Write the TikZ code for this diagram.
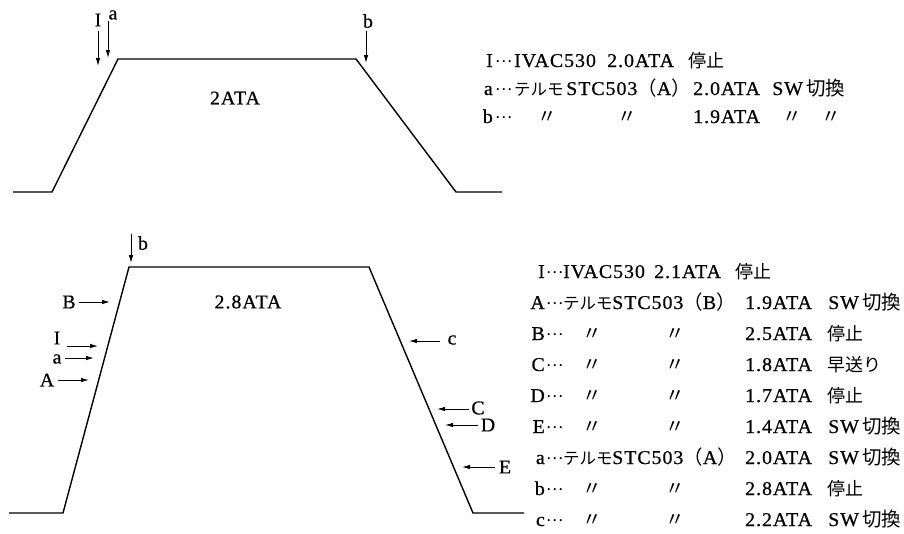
\documentclass[tikz,border=0pt]{standalone}
\usepackage{fontspec}
\setmainfont{Liberation Serif}[FakeStretch=1.02,LetterSpace=5,FakeBold=0.6]
\newfontfamily\jp{Noto Sans CJK JP}
\usetikzlibrary{arrows.meta}
\newcommand{\dts}{\raisebox{4.5pt}{\jp\fontsize{16}{18}\selectfont …}}
\newcommand{\dit}{{\jp 〃}}
\begin{document}
\begin{tikzpicture}[x=1pt,y=-1pt,
  every node/.style={font=\fontsize{19.5}{22}\selectfont, inner sep=0pt},
  graph/.style={line width=1.4pt, line join=miter},
  arr/.style={-{Latex[length=8pt,width=4.5pt]}, line width=0.9pt},
  tx/.style={anchor=base west},
  lt/.style={anchor=base east},
  dc/.style={anchor=base},
  kt/.style={anchor=base west, font=\fontsize{16.5}{20}\selectfont\jp},
  kj/.style={anchor=base west, font=\fontsize{18}{20}\selectfont\jp}]
\useasboundingbox (0,0) rectangle (904,533);
% ---------------- top graph ----------------
\draw[graph] (13,192) -- (52,192) -- (118,59) -- (356,59) -- (456,192) -- (502,192);
\node (t2ata) at (235,98) {2ATA};
\node (tI) at (98,20) {I};
\node (ta) at (113,15) {a};
\node (tb) at (368,21) {b};
\coordinate (tIs) at (98,31);  \coordinate (tIe) at (98,66);
\coordinate (tas) at (108,21); \coordinate (tae) at (108,58);
\coordinate (tbs) at (366,31); \coordinate (tbe) at (366,63);
\draw[arr] (tIs) -- (tIe);
\draw[arr] (tas) -- (tae);
\draw[arr] (tbs) -- (tbe);
% top legend
\node[lt] (r1l) at (493,67) {I};
\node[tx] (r1d) at (495,67) {\dts};
\node[tx] (r1a) at (514,67) {IVAC530};
\node[tx] (r1b) at (607,67) {2.0ATA};
\node[kj] (r1c) at (688,67) {停止};
\node[lt] (r2l) at (493,95) {a};
\node[tx] (r2d) at (495,95) {\dts};
\node[kt] (r2a) at (514,95) {テルモ};
\node[tx] (r2b) at (566,95) {STC503{\jp （}A{\jp ）}};
\node[tx] (r2c) at (693,95) {2.0ATA};
\node[tx] (r2e) at (772,95) {SW\,{\jp 切換}};
\node[lt] (r3l) at (493,123) {b};
\node[tx] (r3d) at (495,123) {\dts};
\node[dc] (r3a) at (547,123) {\dit};
\node[dc] (r3b) at (627,123) {\dit};
\node[tx] (r3c) at (693,123) {1.9ATA};
\node[dc] (r3e) at (792,123) {\dit};
\node[dc] (r3f) at (831,123) {\dit};
% ---------------- bottom graph ----------------
\draw[graph] (9,513) -- (63,513) -- (129,267) -- (369,267) -- (473,513) -- (524,513);
\node (b28) at (248,302) {2.8ATA};
\node (bb) at (143,243) {b};
\coordinate (bbs) at (131,234); \coordinate (bbe) at (131,263);
\draw[arr] (bbs) -- (bbe);
\node (bB) at (69,302) {B};
\coordinate (bBs) at (79,302); \coordinate (bBe) at (110,302);
\draw[arr] (bBs) -- (bBe);
\node (bI) at (57,338) {I};
\coordinate (bIs) at (67,346); \coordinate (bIe) at (98,346);
\draw[arr] (bIs) -- (bIe);
\node (ba) at (57,359) {a};
\coordinate (bas) at (65,358); \coordinate (bae) at (94,358);
\draw[arr] (bas) -- (bae);
\node (bA) at (47,380) {A};
\coordinate (bAs) at (58,380); \coordinate (bAe) at (89,380);
\draw[arr] (bAs) -- (bAe);
\node (bc) at (452,340) {c};
\coordinate (bcs) at (440,341); \coordinate (bce) at (409,341);
\draw[arr] (bcs) -- (bce);
\node (bC) at (478,408) {C};
\coordinate (bCs) at (469,409); \coordinate (bCe) at (437,409);
\draw[arr] (bCs) -- (bCe);
\node (bD) at (488,425) {D};
\coordinate (bDs) at (478,425); \coordinate (bDe) at (445,425);
\draw[arr] (bDs) -- (bDe);
\node (bE) at (505,467) {E};
\coordinate (bEs) at (495,467); \coordinate (bEe) at (462,467);
\draw[arr] (bEs) -- (bEe);
% bottom legend
\node[lt] (s1l) at (545,278) {I};
\node[tx] (s1d) at (546,278) {\dts};
\node[tx] (s1a) at (563,278) {IVAC530};
\node[tx] (s1b) at (654,278) {2.1ATA};
\node[kj] (s1c) at (735,278) {停止};
\node[lt] (s2l) at (545,309) {A};
\node[tx] (s2d) at (546,309) {\dts};
\node[kt] (s2a) at (563,309) {テルモ};
\node[tx] (s2b) at (612,309) {STC503{\jp （}B{\jp ）}};
\node[tx] (s2c) at (745,309) {1.9ATA};
\node[tx] (s2e) at (828,309) {SW\,{\jp 切換}};
\node[lt] (s3l) at (545,340) {B};
\node[tx] (s3d) at (546,340) {\dts};
\node[dc] (s3a) at (592,340) {\dit};
\node[dc] (s3b) at (675,340) {\dit};
\node[tx] (s3c) at (745,340) {2.5ATA};
\node[kj] (s3e) at (827,340) {停止};
\node[lt] (s4l) at (545,371) {C};
\node[tx] (s4d) at (546,371) {\dts};
\node[dc] (s4a) at (592,371) {\dit};
\node[dc] (s4b) at (675,371) {\dit};
\node[tx] (s4c) at (745,371) {1.8ATA};
\node[kj] (s4e) at (827,371) {早送り};
\node[lt] (s5l) at (545,402) {D};
\node[tx] (s5d) at (546,402) {\dts};
\node[dc] (s5a) at (592,402) {\dit};
\node[dc] (s5b) at (675,402) {\dit};
\node[tx] (s5c) at (745,402) {1.7ATA};
\node[kj] (s5e) at (827,402) {停止};
\node[lt] (s6l) at (545,433) {E};
\node[tx] (s6d) at (546,433) {\dts};
\node[dc] (s6a) at (592,433) {\dit};
\node[dc] (s6b) at (675,433) {\dit};
\node[tx] (s6c) at (745,433) {1.4ATA};
\node[tx] (s6e) at (828,433) {SW\,{\jp 切換}};
\node[lt] (s7l) at (545,464) {a};
\node[tx] (s7d) at (546,464) {\dts};
\node[kt] (s7a) at (563,464) {テルモ};
\node[tx] (s7b) at (612,464) {STC503{\jp （}A{\jp ）}};
\node[tx] (s7c) at (745,464) {2.0ATA};
\node[tx] (s7e) at (828,464) {SW\,{\jp 切換}};
\node[lt] (s8l) at (545,495) {b};
\node[tx] (s8d) at (546,495) {\dts};
\node[dc] (s8a) at (592,495) {\dit};
\node[dc] (s8b) at (675,495) {\dit};
\node[tx] (s8c) at (745,495) {2.8ATA};
\node[kj] (s8e) at (827,495) {停止};
\node[lt] (s9l) at (545,526) {c};
\node[tx] (s9d) at (546,526) {\dts};
\node[dc] (s9a) at (592,526) {\dit};
\node[dc] (s9b) at (675,526) {\dit};
\node[tx] (s9c) at (745,526) {2.2ATA};
\node[tx] (s9e) at (828,526) {SW\,{\jp 切換}};
\end{tikzpicture}
\end{document}
